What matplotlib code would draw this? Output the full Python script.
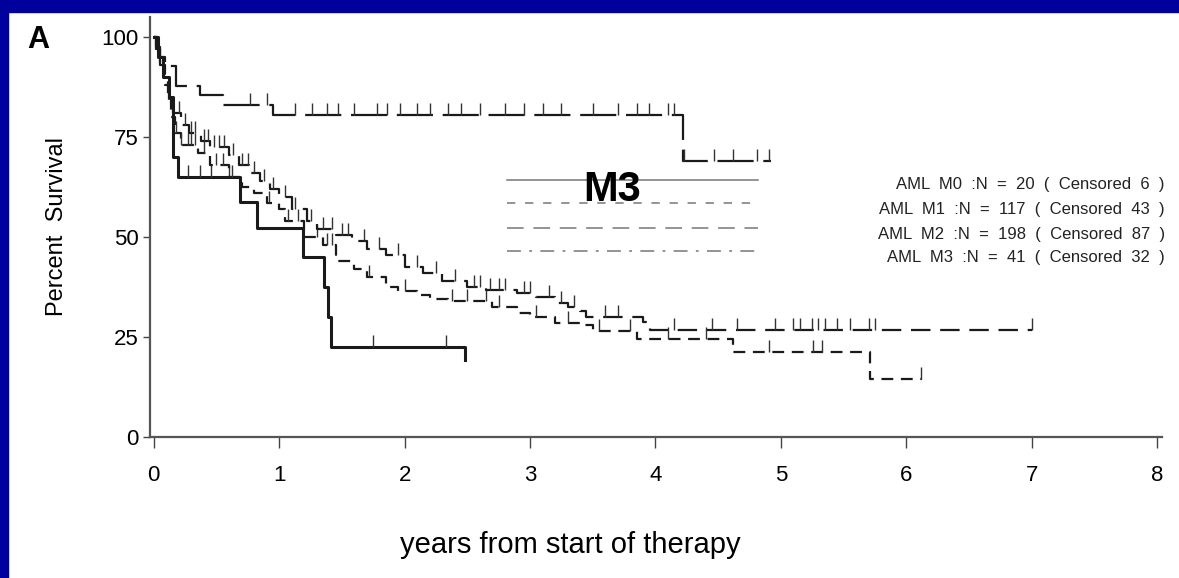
import numpy as np
import matplotlib
matplotlib.use("Agg")
import matplotlib.pyplot as plt
from matplotlib.patches import Rectangle

plt.rcParams['font.family'] = ['Liberation Sans', 'DejaVu Sans']
plt.rcParams['lines.scale_dashes'] = False

#   Kaplan-Meier step data (years, percent surviving)
m0_t = [0, 0.03, 0.07, 0.12, 0.15, 0.19, 0.69, 0.82, 1.19, 1.36, 1.39, 1.41, 2.48]
m0_s = [100, 95, 90, 85, 70, 65, 58.75, 52.25, 45, 37.5, 30, 22.5, 19.25]
m0_cens = [0.27, 0.37, 0.46, 0.6, 1.75, 2.33]

m1_t = [0, 0.02, 0.05, 0.08, 0.11, 0.14, 0.17, 0.22, 0.35, 0.45, 0.6, 0.7, 0.8, 0.9,
        1.0, 1.05, 1.2, 1.35, 1.45, 1.6, 1.7, 1.85, 1.95, 2.1, 2.2, 2.35, 2.7, 2.9,
        3.0, 3.2, 3.4, 3.5, 3.85, 4.62, 5.71, 6.13]
m1_s = [100, 97, 93, 89, 85, 80, 76, 73, 71, 68, 65, 62.5, 61, 58.5,
        57, 54, 50, 48, 44, 42, 40, 37.5, 36.5, 35.5, 34.5, 34, 32.5, 31,
        30, 28.5, 28, 26.5, 24.5, 21.25, 14.5, 14.5]
m1_cens = [0.18, 0.22, 0.27, 0.3, 0.33, 0.4, 0.5, 0.55, 0.62, 0.92, 1.07, 1.15, 1.3,
           1.38, 1.42, 1.72, 2.0, 2.38, 2.5, 2.65, 2.75, 3.05, 3.3, 3.55, 3.8, 4.1,
           4.4, 4.91, 5.26, 5.33, 6.12]

m2_t = [0, 0.02, 0.05, 0.09, 0.12, 0.15, 0.22, 0.28, 0.38, 0.45, 0.6, 0.68, 0.76,
        0.85, 0.93, 1.0, 1.1, 1.22, 1.3, 1.45, 1.58, 1.7, 1.85, 2.0, 2.15, 2.3, 2.5,
        2.65, 2.9, 3.05, 3.2, 3.3, 3.4, 3.45, 3.9, 3.96, 7.0]
m2_s = [100, 97, 93, 88, 84, 81, 78, 76, 74, 72.5, 70.5, 68, 66,
        64, 62, 60, 57, 54, 52, 50.5, 49, 47, 45.5, 42.5, 41, 39, 37.5,
        36.75, 36, 35, 33.5, 32.5, 31.5, 30, 28.75, 26.75, 26.75]
m2_cens = [0.2, 0.25, 0.3, 0.33, 0.4, 0.43, 0.48, 0.52, 0.56, 0.63, 0.7, 0.75, 0.8,
           0.88, 0.95, 1.05, 1.13, 1.25, 1.35, 1.42, 1.5, 1.55, 1.68, 1.8, 1.95, 2.1,
           2.25, 2.4, 2.55, 2.6, 2.68, 2.75, 2.8, 2.95, 3.0, 3.15, 3.25, 3.35, 3.6,
           3.7, 4.15, 4.45, 4.65, 4.95, 5.1, 5.15, 5.25, 5.3, 5.35, 5.45, 5.55, 5.7,
           5.75, 7.0]

m3_t = [0, 0.03, 0.05, 0.09, 0.18, 0.37, 0.55, 0.95, 4.22, 4.92]
m3_s = [100, 97.6, 95.1, 92.7, 87.8, 85.4, 82.9, 80.5, 68.9, 68.9]
m3_cens = [0.77, 0.9, 1.13, 1.26, 1.38, 1.47, 1.6, 1.78, 1.86, 1.96, 2.1, 2.2, 2.35,
           2.45, 2.6, 2.8, 2.95, 3.1, 3.25, 3.5, 3.7, 3.85, 3.95, 4.1, 4.15, 4.23,
           4.47, 4.62, 4.81, 4.91]

legend_labels = ['AML  M0  :N  =  20  (  Censored  6  )',
                 'AML  M1  :N  =  117  (  Censored  43  )',
                 'AML  M2  :N  =  198  (  Censored  87  )',
                 'AML  M3  :N  =  41  (  Censored  32  )']

x_ticks = [0, 1, 2, 3, 4, 5, 6, 7, 8]
y_ticks = [0, 25, 50, 75, 100]


def surv_at(times, surv, t):
    #   value of the step curve at time t
    idx = np.searchsorted(times, t, side='right') - 1
    return np.array(surv)[idx]


fig = plt.figure(figsize=(11.79, 5.78), dpi=100)
#   blue frame on the left and top
fig.patches.append(Rectangle((0, 0), 8 / 1179, 1, transform=fig.transFigure,
                             color='#00009c', zorder=0))
fig.patches.append(Rectangle((0, 1 - 12 / 578), 1, 12 / 578, transform=fig.transFigure,
                             color='#00009c', zorder=0))

ax = fig.add_axes([150 / 1179, 141 / 578, 1012 / 1179, 420 / 578])

curves = [
    (m0_t, m0_s, m0_cens, dict(lw=2.2, ls='-')),
    (m1_t, m1_s, m1_cens, dict(lw=1.6, dashes=(8.5, 5.5))),
    (m2_t, m2_s, m2_cens, dict(lw=1.6, dashes=(14, 7))),
    (m3_t, m3_s, m3_cens, dict(lw=1.6, dashes=(26, 7))),
]
for t, s, cens, style in curves:
    ax.step(t, s, where='post', color='#1a1a1a', **style)
    cy = surv_at(t, s, cens)
    ax.vlines(cens, cy, cy + 3, color='#333333', lw=1.0)

#   legend samples drawn like the original (lines far from the labels)
leg_y = [0.612, 0.557, 0.498, 0.443]
leg_styles = [dict(ls='-'), dict(dashes=(6, 7)), dict(dashes=(12, 7)),
              dict(dashes=(10, 6, 2, 6))]
for yy, st in zip(leg_y, leg_styles):
    ax.plot([0.353, 0.601], [yy, yy], transform=ax.transAxes, color='#777777',
            lw=1.1, **st)

leg_fy = [0.680, 0.638, 0.595, 0.555]
for yy, lab in zip(leg_fy, legend_labels):
    fig.text(0.988, yy, lab, ha='right', va='center', fontsize=12, color='#222222')

fig.text(0.519, 0.672, 'M3', ha='center', va='center', fontsize=30,
         fontweight='bold', color='black')
fig.text(0.023, 0.957, 'A', ha='left', va='top', fontsize=22, fontweight='bold')

ax.set_xlim(-0.03, 8.04)
ax.set_ylim(0, 105)
ax.set_xticks(x_ticks)
ax.set_yticks(y_ticks)
ax.tick_params(axis='x', labelsize=16, length=8, width=1, color='#444444', pad=12)
ax.tick_params(axis='y', labelsize=16, length=5, width=1, color='#444444', pad=3)
for side in ['top', 'right']:
    ax.spines[side].set_visible(False)
for side in ['left', 'bottom']:
    ax.spines[side].set_color('#555555')
    ax.spines[side].set_linewidth(1.6)

fig.text(570 / 1179, 1 - 545 / 578, 'years from start of therapy', ha='center',
         va='center', fontsize=21)
fig.text(57 / 1179, 1 - 226 / 578, 'Percent  Survival', ha='center', va='center',
         rotation=90, fontsize=17)

fig.savefig('out.png', dpi=100)
